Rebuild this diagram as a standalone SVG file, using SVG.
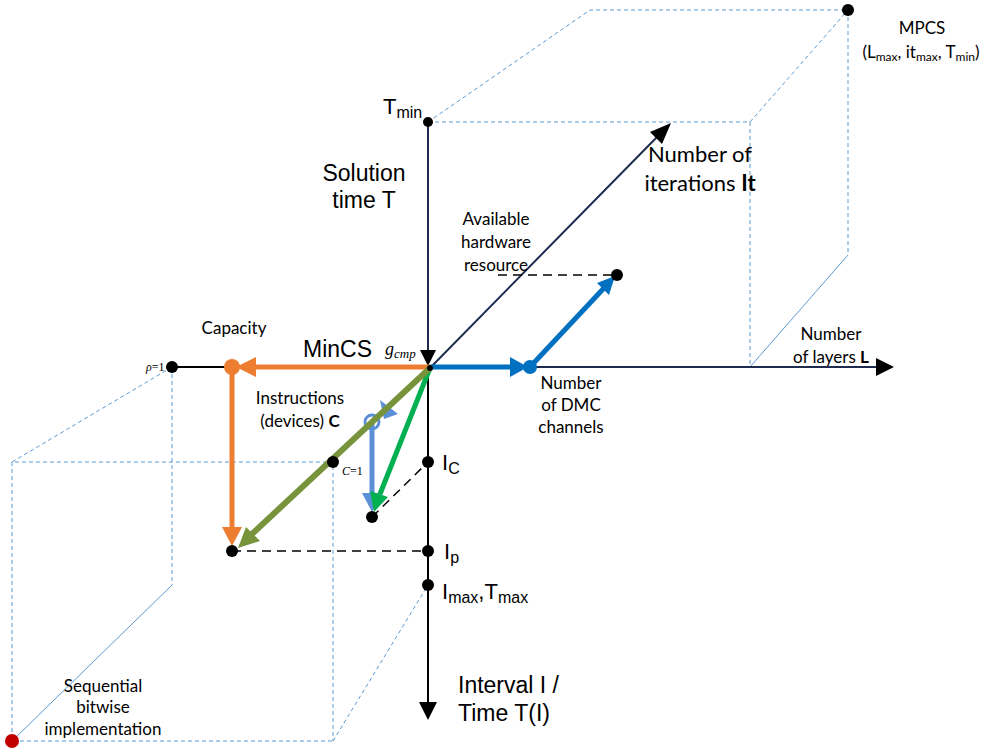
<svg xmlns="http://www.w3.org/2000/svg" width="983" height="749" viewBox="0 0 983 749">
<defs>
<style>
.cube{fill:none;stroke:#5b9bd5;stroke-width:1;stroke-dasharray:4,3}
.cubes{fill:none;stroke:#5b9bd5;stroke-width:1}
.ax{stroke:#000;stroke-width:2;fill:none}
.nav{stroke:#1f2a4f;stroke-width:2;fill:none}
.dash{stroke:#000;stroke-width:1.5;stroke-dasharray:9,6;fill:none}
.dot{fill:#000}
.cal{font-family:Lato,"Open Sans","Liberation Sans",sans-serif;fill:#000}
.ari{font-family:"Liberation Sans",Arial,sans-serif;fill:#000}
.tim{font-family:"Liberation Serif","Times New Roman",serif;font-style:italic;fill:#000}
</style>
</defs>
<rect width="983" height="749" fill="#fff"/>

<g id="cube-top">
<path class="cube" d="M428,122 H750 V367 M428,122 L590,10 H848 V255 M750,122 L848,10"/>
<path class="cubes" d="M750,367 L848,255"/>
</g>
<g id="cube-bottom">
<path class="cube" d="M172,367 L12,462 H333 V741 M12,462 V741 H333 M172,367 V585 M333,741 L428,585"/>
<path class="cubes" d="M12,741 L172,585"/>
</g>

<g id="connectors">
<line class="nav" x1="428" y1="122" x2="428" y2="352"/>
<path d="M420,350 L436,350 L428,366 z" fill="#000"/>
<line class="ax" x1="428" y1="368" x2="428" y2="704"/>
<path d="M419,702 L437,702 L428,720 z" fill="#000"/>
<line class="nav" x1="430" y1="368" x2="658" y2="136"/>
<path d="M671,123 L650,132 L662,144 z" fill="#000"/>
<line class="ax" x1="172" y1="367" x2="232" y2="367"/>
<line x1="530" y1="367" x2="878" y2="367" stroke="#1f2a4f" stroke-width="2"/>
<path d="M894,367 L876,358 L876,376 z" fill="#000"/>
<line class="dash" x1="498" y1="275" x2="617" y2="275"/>
<line class="dash" x1="232" y1="551" x2="428" y2="551"/>
<line class="dash" x1="372" y1="517" x2="428" y2="462"/>

<line x1="430" y1="367" x2="514" y2="367" stroke="#0070c0" stroke-width="5"/>
<path d="M528,367 L510,357 L510,377 z" fill="#0070c0"/>
<circle cx="530" cy="367" r="7" fill="#0070c0"/>
<line x1="530" y1="367" x2="604" y2="288" stroke="#0070c0" stroke-width="5"/>
<path d="M615,276 L597,283 L609,295 z" fill="#0070c0"/>

<line x1="430" y1="367" x2="246" y2="367" stroke="#ed7d31" stroke-width="5"/>
<path d="M236,367 L256,357 L256,377 z" fill="#ed7d31"/>
<circle cx="232" cy="367" r="8" fill="#ed7d31"/>
<line x1="232" y1="367" x2="232" y2="532" stroke="#ed7d31" stroke-width="5"/>
<path d="M232,546 L222,527 L242,527 z" fill="#ed7d31"/>

<line x1="372" y1="422" x2="372" y2="496" stroke="#5b8fd6" stroke-width="5"/>
<path d="M372,512 L362,493 L382,493 z" fill="#5b8fd6"/>
<path d="M398,414 L380,400 L384,419 z" fill="#5b8fd6"/>
<circle cx="372" cy="422" r="7" fill="none" stroke="#5b8fd6" stroke-width="3"/>

<line x1="430" y1="368" x2="380" y2="494" stroke="#00b050" stroke-width="5"/>
<path d="M374,512 L370,491 L388,497 z" fill="#00b050"/>

<line x1="430" y1="368" x2="252" y2="534" stroke="#77933c" stroke-width="6"/>
<path d="M238,548 L246,527 L260,541 z" fill="#77933c"/>
</g>

<g id="dots">
<circle class="dot" cx="428" cy="122" r="5"/>
<circle class="dot" cx="848" cy="10" r="6"/>
<circle class="dot" cx="617" cy="275" r="6"/>
<circle class="dot" cx="172" cy="367" r="6"/>
<circle class="dot" cx="333" cy="462" r="6"/>
<circle class="dot" cx="428" cy="462" r="6"/>
<circle class="dot" cx="428" cy="551" r="6"/>
<circle class="dot" cx="428" cy="585" r="6"/>
<circle class="dot" cx="372" cy="517" r="6"/>
<circle class="dot" cx="232" cy="551" r="6"/>
<circle cx="12" cy="741" r="7" fill="#c00000"/>
<circle class="dot" cx="430" cy="368" r="3"/>
</g>

<g id="labels">
<text class="cal" x="922" y="34" font-size="17" text-anchor="middle">MPCS</text>
<text class="cal" x="921" y="58" font-size="17" text-anchor="middle">(L<tspan font-size="12" dy="3">max</tspan><tspan dy="-3">, it</tspan><tspan font-size="12" dy="3">max</tspan><tspan dy="-3">, T</tspan><tspan font-size="12" dy="3">min</tspan><tspan dy="-3">)</tspan></text>
<text class="ari" x="383" y="114" font-size="22">T<tspan font-size="16" dy="4">min</tspan></text>
<text class="ari" x="364" y="181" font-size="23" text-anchor="middle">Solution</text>
<text class="ari" x="364" y="208" font-size="23" text-anchor="middle">time T</text>
<text class="cal" x="700" y="162" font-size="22" text-anchor="middle">Number of</text>
<text class="cal" x="700" y="191" font-size="22" text-anchor="middle">iterations <tspan font-weight="bold">It</tspan></text>
<text class="cal" x="496" y="225" font-size="17" text-anchor="middle">Available</text>
<text class="cal" x="496" y="248" font-size="17" text-anchor="middle">hardware</text>
<text class="cal" x="496" y="271" font-size="17" text-anchor="middle">resource</text>
<text class="cal" x="234" y="334" font-size="17" text-anchor="middle">Capacity</text>
<text class="ari" x="303" y="357" font-size="23">MinCS</text>
<text class="tim" x="385" y="355" font-size="18">g<tspan font-size="13" dy="3">cmp</tspan></text>
<text class="tim" x="146" y="371" font-size="12">ρ<tspan font-style="normal">=1</tspan></text>
<text class="cal" x="831" y="340" font-size="17" text-anchor="middle">Number</text>
<text class="cal" x="831" y="363" font-size="17" text-anchor="middle">of layers <tspan font-weight="bold">L</tspan></text>
<text class="cal" x="571" y="389" font-size="17" text-anchor="middle">Number</text>
<text class="cal" x="571" y="411" font-size="17" text-anchor="middle">of DMC</text>
<text class="cal" x="571" y="433" font-size="17" text-anchor="middle">channels</text>
<text class="cal" x="300" y="404" font-size="17" text-anchor="middle">Instructions</text>
<text class="cal" x="300" y="427" font-size="17" text-anchor="middle">(devices) <tspan font-weight="bold">C</tspan></text>
<text class="tim" x="342" y="475" font-size="12">C<tspan font-style="normal">=1</tspan></text>
<text class="ari" x="442" y="470" font-size="22">I<tspan font-size="16" dy="4">C</tspan></text>
<text class="ari" x="444" y="559" font-size="22">I<tspan font-size="16" dy="4">p</tspan></text>
<text class="ari" x="442" y="599" font-size="22">I<tspan font-size="16" dy="4">max</tspan><tspan dy="-4">,T</tspan><tspan font-size="16" dy="4">max</tspan></text>
<text class="ari" x="458" y="693" font-size="23">Interval I /</text>
<text class="ari" x="458" y="721" font-size="23">Time T(I)</text>
<text class="cal" x="103" y="692" font-size="17" text-anchor="middle">Sequential</text>
<text class="cal" x="103" y="713" font-size="17" text-anchor="middle">bitwise</text>
<text class="cal" x="103" y="735" font-size="17" text-anchor="middle">implementation</text>
</g>
</svg>
